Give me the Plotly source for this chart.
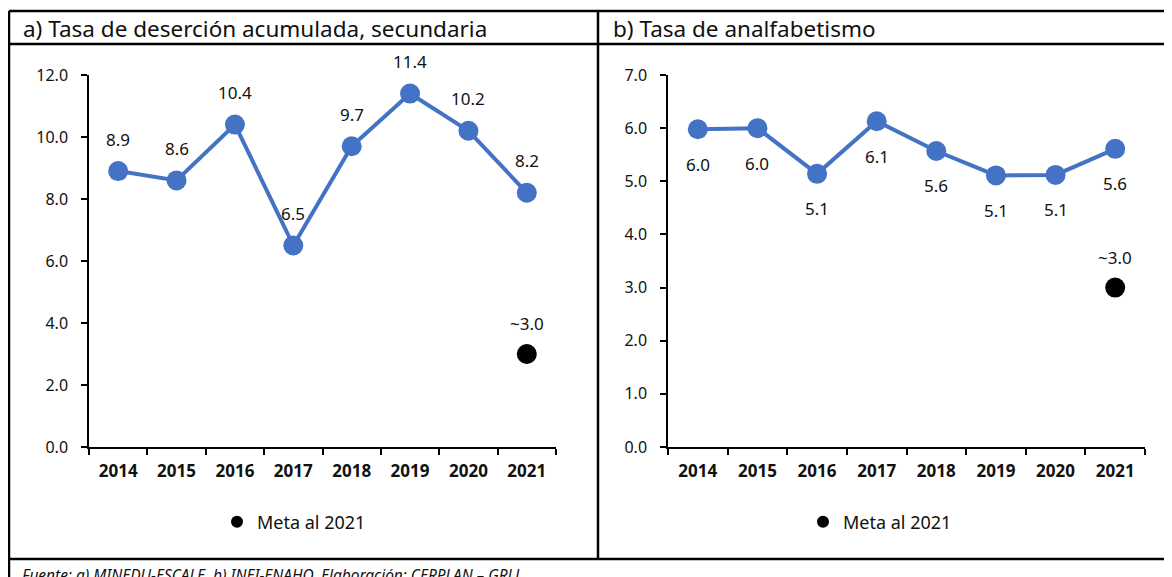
import plotly.graph_objects as go

# ---------------- data ----------------
years = ["2014", "2015", "2016", "2017", "2018", "2019", "2020", "2021"]
desercion = [8.9, 8.6, 10.4, 6.5, 9.7, 11.4, 10.2, 8.2]
analfabetismo = [5.98, 6.0, 5.14, 6.13, 5.57, 5.11, 5.12, 5.61]
meta_year = ["2021"]
meta_desercion = [3.0]
meta_analfabetismo = [3.0]

title_a = "a) Tasa de deserción acumulada, secundaria"
title_b = "b) Tasa de analfabetismo"
legend_name = "Meta al 2021"
source_note = "Fuente: a) MINEDU-ESCALE, b) INEI-ENAHO. Elaboración: CERPLAN – GRLL"

# ---------------- styling ----------------
# The page body adds an 8px offset; figure coordinates are shifted to compensate.
OFF = 8
W, H = 1172 - OFF, 577 - OFF
FONT = "Noto Sans"
BLUE = "#4472C4"
TXT = "#111111"


def px_x(p):
    return (p - OFF) / W


def px_y(p):
    return 1 - (p - OFF) / H


fig = go.Figure()

# Panel a
fig.add_trace(go.Scatter(
    x=years, y=desercion, mode="lines+markers",
    line=dict(color=BLUE, width=4),
    marker=dict(color=BLUE, size=20),
    xaxis="x", yaxis="y", showlegend=False, hoverinfo="x+y"))
fig.add_trace(go.Scatter(
    x=meta_year, y=meta_desercion, mode="markers", name=legend_name,
    marker=dict(color="black", size=20),
    xaxis="x", yaxis="y", legend="legend", showlegend=True))

# Panel b
fig.add_trace(go.Scatter(
    x=years, y=analfabetismo, mode="lines+markers",
    line=dict(color=BLUE, width=4),
    marker=dict(color=BLUE, size=20),
    xaxis="x2", yaxis="y2", showlegend=False, hoverinfo="x+y"))
fig.add_trace(go.Scatter(
    x=meta_year, y=meta_analfabetismo, mode="markers", name=legend_name,
    marker=dict(color="black", size=20),
    xaxis="x2", yaxis="y2", legend="legend2", showlegend=True))

LBL = dict(family=FONT, size=17, color=TXT)
annotations = []
for v, x in zip(desercion, range(len(years))):
    annotations.append(dict(x=x, y=v, xref="x", yref="y", text=f"{v:.1f}",
                            showarrow=False, yshift=32, font=LBL))
for yr, v in zip(meta_year, meta_desercion):
    annotations.append(dict(x=years.index(yr), y=v, xref="x", yref="y", text=f"~{v:.1f}",
                            showarrow=False, yshift=31, font=LBL))
for v, x in zip(analfabetismo, range(len(years))):
    annotations.append(dict(x=x, y=v, xref="x2", yref="y2", text=f"{v:.1f}",
                            showarrow=False, yshift=-35, font=LBL))
for yr, v in zip(meta_year, meta_analfabetismo):
    annotations.append(dict(x=years.index(yr), y=v, xref="x2", yref="y2", text=f"~{v:.1f}",
                            showarrow=False, yshift=30, font=LBL))

# Panel titles & source
annotations.append(dict(x=px_x(21), y=px_y(29), xref="paper", yref="paper",
                        xanchor="left", yanchor="middle", showarrow=False,
                        text=title_a, font=dict(family=FONT, size=22.5, color=TXT)))
annotations.append(dict(x=px_x(611), y=px_y(29), xref="paper", yref="paper",
                        xanchor="left", yanchor="middle", showarrow=False,
                        text=title_b, font=dict(family=FONT, size=22.5, color=TXT)))
annotations.append(dict(x=px_x(20), y=px_y(562), xref="paper", yref="paper",
                        xanchor="left", yanchor="top", showarrow=False,
                        text=f"<i>{source_note}</i>",
                        font=dict(family=FONT, size=15.5, color=TXT)))

# Frame lines
LW = 2.5
left_edge = px_x(OFF + 1)
shapes = [
    dict(type="line", xref="paper", yref="paper", x0=left_edge, x1=1, y0=px_y(11), y1=px_y(11),
         line=dict(color="black", width=LW)),
    dict(type="line", xref="paper", yref="paper", x0=left_edge, x1=1, y0=px_y(44), y1=px_y(44),
         line=dict(color="black", width=LW)),
    dict(type="line", xref="paper", yref="paper", x0=left_edge, x1=1, y0=px_y(559), y1=px_y(559),
         line=dict(color="black", width=LW)),
    dict(type="line", xref="paper", yref="paper", x0=left_edge, x1=left_edge, y0=px_y(11), y1=0,
         line=dict(color="black", width=LW)),
    dict(type="line", xref="paper", yref="paper", x0=px_x(598), x1=px_x(598), y0=px_y(11), y1=px_y(559),
         line=dict(color="black", width=LW)),
]

common_x = dict(type="category", range=[-0.5, 7.5], showgrid=False, zeroline=False,
                showline=True, linecolor="black", linewidth=1.5,
                ticks="outside", tickson="boundaries", ticklen=6, tickwidth=1.5, tickcolor="black",
                tickfont=dict(family=FONT, size=17, color=TXT, weight="bold"),
                ticklabelstandoff=8, fixedrange=True)
common_y = dict(showgrid=False, zeroline=False, showline=True, linecolor="black", linewidth=1.5,
                ticks="outside", ticklen=6, tickwidth=1.5, tickcolor="black",
                tickformat=".1f", tickfont=dict(family=FONT, size=16, color=TXT),
                ticklabelstandoff=10, fixedrange=True)

ydom = [px_y(447), px_y(75)]

fig.update_layout(
    width=W, height=H, autosize=False,
    margin=dict(l=0, r=0, t=0, b=0, autoexpand=False),
    paper_bgcolor="white", plot_bgcolor="white",
    font=dict(family=FONT, color=TXT),
    xaxis=dict(domain=[px_x(89), px_x(556)], anchor="y", **common_x),
    yaxis=dict(domain=ydom, anchor="x", range=[0, 12], dtick=2, **common_y),
    xaxis2=dict(domain=[px_x(668), px_x(1145)], anchor="y2", **common_x),
    yaxis2=dict(domain=ydom, anchor="x2", range=[0, 7], dtick=1, **common_y),
    legend=dict(x=px_x(294), y=px_y(522), xanchor="center", yanchor="middle",
                orientation="h", itemsizing="constant", bgcolor="rgba(0,0,0,0)",
                font=dict(family=FONT, size=18, color=TXT)),
    legend2=dict(x=px_x(880), y=px_y(522), xanchor="center", yanchor="middle",
                 orientation="h", itemsizing="constant", bgcolor="rgba(0,0,0,0)",
                 font=dict(family=FONT, size=18, color=TXT)),
    annotations=annotations,
    shapes=shapes,
    hovermode="closest",
)

fig.write_html("out.html")
